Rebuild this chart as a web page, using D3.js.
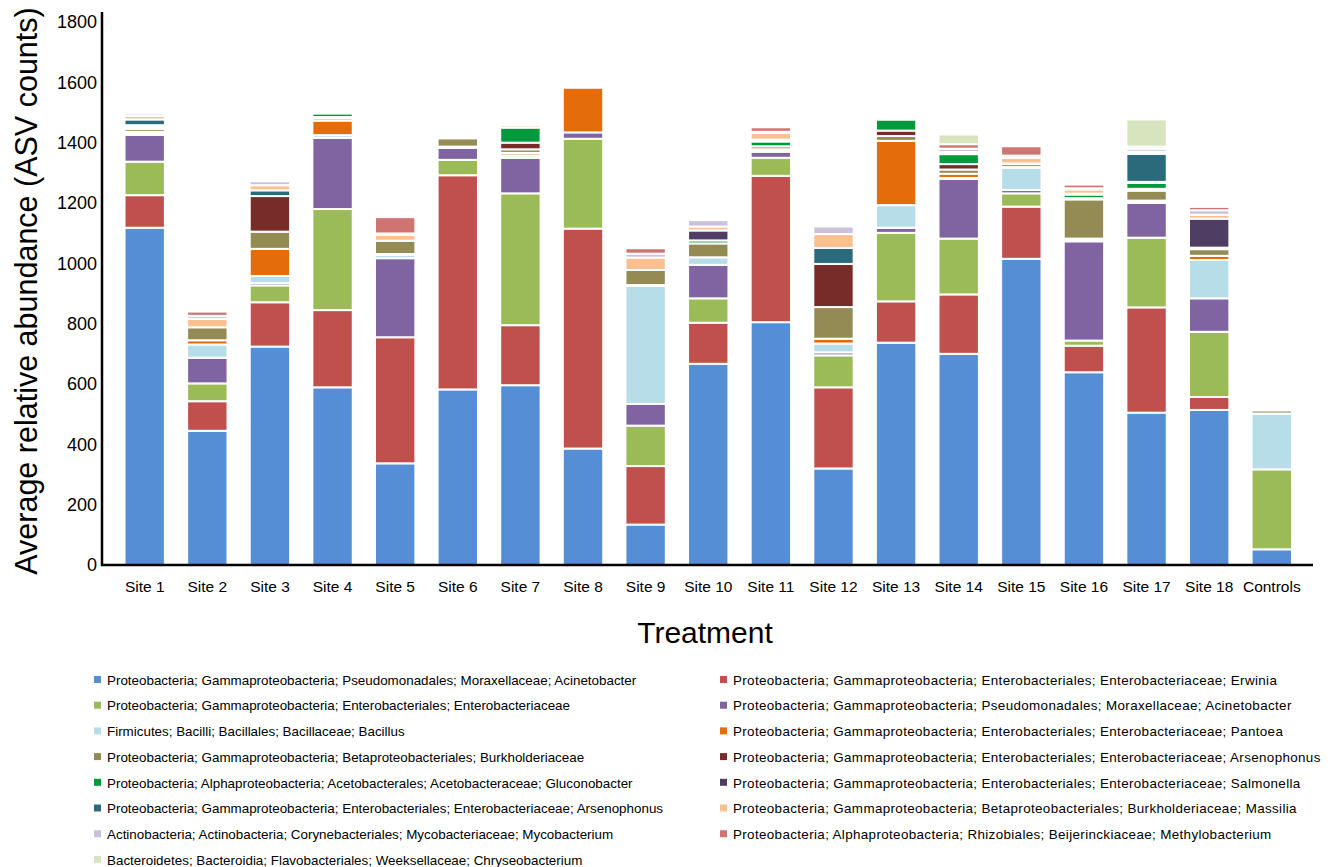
<!DOCTYPE html>
<html>
<head>
<meta charset="utf-8">
<script src="https://cdn.jsdelivr.net/npm/d3@7"></script>
<style>
  html, body { margin: 0; padding: 0; background: #ffffff; }
  svg { display: block; font-family: "Liberation Sans", Arial, sans-serif; }
</style>
</head>
<body>
<svg id="chart" width="1333" height="867"></svg>
<script>
// Sample groups along the x axis
const categories = ["Site 1", "Site 2", "Site 3", "Site 4", "Site 5", "Site 6", "Site 7", "Site 8", "Site 9",
  "Site 10", "Site 11", "Site 12", "Site 13", "Site 14", "Site 15", "Site 16", "Site 17", "Site 18", "Controls"];

// Taxa, in stacking order (bottom to top)
const taxa = [
  "Proteobacteria; Gammaproteobacteria; Pseudomonadales; Moraxellaceae; Acinetobacter",
  "Proteobacteria; Gammaproteobacteria; Enterobacteriales; Enterobacteriaceae; Erwinia",
  "Proteobacteria; Gammaproteobacteria; Enterobacteriales; Enterobacteriaceae",
  "Proteobacteria; Gammaproteobacteria; Pseudomonadales; Moraxellaceae; Acinetobacter",
  "Firmicutes; Bacilli; Bacillales; Bacillaceae; Bacillus",
  "Proteobacteria; Gammaproteobacteria; Enterobacteriales; Enterobacteriaceae; Pantoea",
  "Proteobacteria; Gammaproteobacteria; Betaproteobacteriales; Burkholderiaceae",
  "Proteobacteria; Gammaproteobacteria; Enterobacteriales; Enterobacteriaceae; Arsenophonus",
  "Proteobacteria; Alphaproteobacteria; Acetobacterales; Acetobacteraceae; Gluconobacter",
  "Proteobacteria; Gammaproteobacteria; Enterobacteriales; Enterobacteriaceae; Salmonella",
  "Proteobacteria; Gammaproteobacteria; Enterobacteriales; Enterobacteriaceae; Arsenophonus",
  "Proteobacteria; Gammaproteobacteria; Betaproteobacteriales; Burkholderiaceae; Massilia",
  "Actinobacteria; Actinobacteria; Corynebacteriales; Mycobacteriaceae; Mycobacterium",
  "Proteobacteria; Alphaproteobacteria; Rhizobiales; Beijerinckiaceae; Methylobacterium",
  "Bacteroidetes; Bacteroidia; Flavobacteriales; Weeksellaceae; Chryseobacterium"
];

const taxonColors = ["#558ed5", "#c0504d", "#9bbb59", "#8064a2", "#b7dee8", "#e46c0a", "#948a54", "#772c2a",
  "#009a3c", "#503d63", "#2a6a7b", "#fac090", "#ccc1da", "#cf7471", "#d7e4bd"];

// Average ASV counts per site, one array per taxon
const acinetobacterA   = [1118, 445, 724, 589, 337, 582, 596, 386, 134, 667, 805, 320, 737, 700, 1015, 639, 505, 514, 52];
const erwinia          = [108, 98, 147, 256, 418, 710, 199, 729, 194, 136, 485, 269, 137, 197, 173, 88, 349, 43, 0];
const enterobacteriaceae = [111, 59, 56, 335, 0, 51, 437, 298, 134, 81, 60, 106, 227, 185, 44, 17, 231, 216, 265];
const acinetobacterB   = [89, 85, 8, 236, 262, 40, 118, 21, 72, 111, 20, 10, 17, 198, 11, 329, 115, 111, 0];
const bacillus         = [5, 44, 23, 9, 11, 2, 8, 0, 391, 25, 4, 29, 75, 3, 74, 4, 4, 127, 185];
const pantoea          = [5, 14, 90, 48, 3, 2, 8, 148, 3, 0, 4, 16, 213, 14, 2, 5, 4, 14, 0];
const burkholderiaceae = [10, 43, 57, 8, 44, 27, 12, 0, 50, 46, 10, 105, 16, 14, 10, 130, 33, 22, 10];
const arsenophonusA    = [4, 0, 118, 4, 0, 0, 22, 0, 0, 0, 0, 143, 18, 18, 0, 4, 6, 2, 0];
const gluconobacter    = [4, 0, 0, 12, 0, 0, 50, 0, 0, 10, 16, 0, 36, 33, 0, 12, 20, 3, 0];
const salmonella       = [4, 0, 0, 0, 0, 0, 0, 0, 0, 33, 3, 0, 0, 2, 0, 0, 3, 96, 0];
const arsenophonusB    = [19, 0, 19, 0, 0, 0, 0, 0, 0, 0, 3, 53, 0, 2, 2, 3, 93, 0, 0];
const massilia         = [12, 28, 17, 3, 19, 0, 8, 0, 41, 13, 23, 46, 0, 3, 19, 14, 7, 13, 0];
const mycobacterium    = [8, 10, 13, 0, 5, 0, 5, 0, 13, 21, 3, 25, 0, 11, 7, 4, 10, 15, 0];
const methylobacterium = [2, 14, 0, 0, 54, 0, 3, 0, 18, 0, 15, 0, 0, 15, 31, 12, 7, 11, 0];
const chryseobacterium = [0, 0, 0, 0, 0, 0, 0, 0, 0, 0, 0, 0, 0, 32, 0, 0, 90, 0, 0];

const yTicks = [0, 200, 400, 600, 800, 1000, 1200, 1400, 1600, 1800];

const seriesValues = [acinetobacterA, erwinia, enterobacteriaceae, acinetobacterB, bacillus, pantoea,
  burkholderiaceae, arsenophonusA, gluconobacter, salmonella, arsenophonusB, massilia, mycobacterium,
  methylobacterium, chryseobacterium];

// Build rows for d3.stack
const keys = taxa.map((_, i) => "t" + i);
const rows = categories.map((c, j) => {
  const r = { category: c };
  seriesValues.forEach((arr, i) => { r[keys[i]] = arr[j]; });
  return r;
});
const stacked = d3.stack().keys(keys)(rows);

const svg = d3.select("#chart");

const x = d3.scaleBand()
  .domain(categories)
  .range([113.4, 1303.1])
  .paddingInner(0.355)
  .paddingOuter(0.1775);

const y = d3.scaleLinear().domain([0, 1800]).range([565, 22]);

// Stacked segments, separated by white outlines
const layer = svg.append("g").selectAll("g")
  .data(stacked)
  .join("g")
  .attr("fill", (d, i) => taxonColors[i]);

layer.selectAll("rect")
  .data(d => d.filter(s => s[1] - s[0] > 0))
  .join("rect")
  .attr("x", d => x(d.data.category))
  .attr("width", x.bandwidth())
  .attr("y", d => y(d[1]))
  .attr("height", d => y(d[0]) - y(d[1]))
  .attr("stroke", "#ffffff")
  .attr("stroke-width", 2);

// Y axis: labels only, plus a plain axis line
const yAxis = svg.append("g")
  .attr("transform", "translate(102,0)")
  .call(d3.axisLeft(y).tickValues(yTicks).tickSize(0).tickPadding(5).tickFormat(d3.format("d")));
yAxis.select(".domain").remove();
yAxis.selectAll("text").attr("font-size", 18).attr("fill", "#000")
  .attr("font-family", "'Liberation Sans', Arial, sans-serif");

svg.append("line")
  .attr("x1", 102).attr("x2", 102)
  .attr("y1", 12).attr("y2", 566)
  .attr("stroke", "#000").attr("stroke-width", 2.5);

// X axis
const xAxis = svg.append("g")
  .attr("transform", "translate(0,565)")
  .call(d3.axisBottom(x).tickSize(0).tickPadding(16));
xAxis.select(".domain").remove();
xAxis.selectAll("text").attr("font-size", 15.5).attr("fill", "#000")
  .attr("font-family", "'Liberation Sans', Arial, sans-serif");

svg.append("line")
  .attr("x1", 101).attr("x2", 1313)
  .attr("y1", 565).attr("y2", 565)
  .attr("stroke", "#000").attr("stroke-width", 2.5);

// Axis titles
svg.append("text")
  .attr("transform", "translate(37,291) rotate(-90)")
  .attr("text-anchor", "middle")
  .attr("font-size", 30.5)
  .text("Average relative abundance (ASV counts)");

svg.append("text")
  .attr("x", 705).attr("y", 643)
  .attr("text-anchor", "middle")
  .attr("font-size", 30)
  .text("Treatment");

// Legend in two columns, read row by row
const legend = svg.append("g").selectAll("g")
  .data(taxa.map((t, i) => ({ t, i })))
  .join("g")
  .attr("transform", d => {
    const col = d.i % 2, row = Math.floor(d.i / 2);
    return `translate(${col === 0 ? 94 : 720},${680 + row * 25.7})`;
  });

legend.append("rect")
  .attr("x", 0).attr("y", -4)
  .attr("width", 7).attr("height", 7)
  .attr("fill", d => taxonColors[d.i]);

legend.append("text")
  .attr("x", 13).attr("y", 0)
  .attr("dy", "0.35em")
  .attr("font-size", 13.4)
  .attr("letter-spacing", d => (d.i % 2 === 1 ? 0.36 : 0))
  .attr("fill", "#000")
  .text(d => d.t);
</script>
</body>
</html>
